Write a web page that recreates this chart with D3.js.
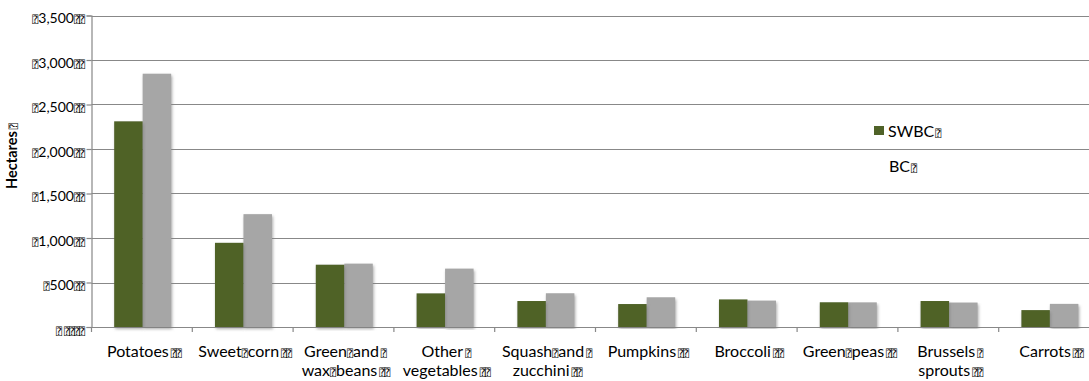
<!DOCTYPE html>
<html>
<head>
<meta charset="utf-8">
<script src="https://cdn.jsdelivr.net/npm/d3@7/dist/d3.min.js"></script>
<style>
  html, body { margin: 0; padding: 0; background: #fff; }
  svg { display: block; }
  text { font-family: Lato, "Open Sans", sans-serif; fill: #000; }
  .box { font-family: "DejaVu Sans Mono", "DejaVu Sans", monospace; }
</style>
</head>
<body>
<div id="chart"></div>
<script>
// Vegetable area by crop, SWBC vs BC (hectares)
const categories = [
  ["Potatoes"],
  ["Sweet", "corn"],
  ["Green", "and", "|", "wax", "beans"],
  ["Other", "|", "vegetables"],
  ["Squash", "and", "|", "zucchini"],
  ["Pumpkins"],
  ["Broccoli"],
  ["Green", "peas"],
  ["Brussels", "|", "sprouts"],
  ["Carrots"]
];
const seriesNames = ["SWBC", "BC"];
const swbc = [2311, 946, 700, 378, 292, 258, 310, 278, 292, 190];
const bc   = [2846, 1268, 712, 656, 379, 334, 297, 277, 275, 260];
const yTicks = [0, 500, 1000, 1500, 2000, 2500, 3000, 3500];
const yTitle = "Hectares";

const W = 1089, H = 381;
const BOX = "\u2370";
const green = "#4f6228", grey = "#a6a6a6", lineCol = "#888888";

const svg = d3.select("#chart").append("svg").attr("width", W).attr("height", H);

const defs = svg.append("defs");
const f = defs.append("filter").attr("id", "shadow")
  .attr("x", "-20%").attr("y", "-5%").attr("width", "140%").attr("height", "110%");
f.append("feGaussianBlur").attr("in", "SourceAlpha").attr("stdDeviation", 1.6).attr("result", "b");
f.append("feOffset").attr("in", "b").attr("dx", 1).attr("dy", 1.5).attr("result", "o");
f.append("feFlood").attr("flood-color", "#7f7f7f").attr("flood-opacity", 0.65);
f.append("feComposite").attr("in2", "o").attr("operator", "in").attr("result", "s");
const m = f.append("feMerge");
m.append("feMergeNode").attr("in", "s");
m.append("feMergeNode").attr("in", "SourceGraphic");

const x = d3.scaleBand().domain(d3.range(categories.length)).range([91.5, 1099.5]).padding(0);
const bw = x.bandwidth();
const xs = d3.scaleBand().domain(seriesNames).range([bw * 0.225, bw * 0.225 + 57]).padding(0);
const y = d3.scaleLinear().domain([0, 3500]).range([327, 15.5]);

// gridlines
svg.append("g").selectAll("line").data(yTicks).join("line")
  .attr("x1", 91.5).attr("x2", W)
  .attr("y1", d => Math.round(y(d)) + 0.5).attr("y2", d => Math.round(y(d)) + 0.5)
  .attr("stroke", lineCol).attr("stroke-width", 1.2);

// bars
const data = swbc.map((v, i) => [{ s: "SWBC", v, i }, { s: "BC", v: bc[i], i }]);
const groups = svg.append("g").selectAll("g").data(data).join("g")
  .attr("transform", (d, i) => `translate(${x(i)},0)`);
groups.selectAll("rect").data(d => d.slice().reverse()).join("rect")
  .attr("x", d => xs(d.s)).attr("width", xs.bandwidth())
  .attr("y", d => y(d.v)).attr("height", d => y(0) - y(d.v))
  .attr("fill", d => d.s === "SWBC" ? green : grey)
  .attr("filter", "url(#shadow)");

// y axis line and ticks
const yAxis = d3.axisLeft(y).tickValues(yTicks).tickSize(5).tickFormat("");
const ya = svg.append("g").attr("transform", "translate(91.5,0)").call(yAxis);
ya.select(".domain").attr("stroke", lineCol).attr("stroke-width", 1.2);
ya.selectAll(".tick line").attr("stroke", lineCol).attr("stroke-width", 1.2);

// x axis ticks between categories
svg.append("g").selectAll("line").data(d3.range(categories.length + 1)).join("line")
  .attr("x1", i => 91.5 + i * bw).attr("x2", i => 91.5 + i * bw)
  .attr("y1", y(0)).attr("y2", y(0) + 5)
  .attr("stroke", lineCol).attr("stroke-width", 1.2);

// y tick labels
const fmt = d3.format(",");
const yl = svg.append("g").selectAll("text").data(yTicks).join("text")
  .attr("x", 84).attr("y", d => y(d) + 7.5)
  .attr("text-anchor", "end").style("font-size", "14px");
yl.each(function (d) {
  const t = d3.select(this);
  if (d === 0) {
    t.append("tspan").attr("class", "box").style("font-size", "10px").text(BOX);
    t.append("tspan").attr("class", "box").attr("dx", 2).style("font-size", "10px").style("letter-spacing", "-1px").text(BOX + BOX + BOX + BOX);
  } else {
    t.append("tspan").attr("class", "box").style("font-size", "10px").text(BOX);
    t.append("tspan").text(fmt(d));
    t.append("tspan").attr("class", "box").style("font-size", "10px").style("letter-spacing", "-1px").text(BOX + BOX);
  }
});

// category labels
function addLine(t, words, last, xx, yy) {
  const line = t.append("tspan").attr("x", xx).attr("y", yy);
  words.forEach((w, k) => {
    line.append("tspan").text(w);
    if (k < words.length - 1) {
      line.append("tspan").attr("class", "box").style("font-size", "10px").text(BOX);
    }
  });
  if (last) line.append("tspan").attr("class", "box").style("font-size", "10px").style("letter-spacing", "-1px").attr("dx", 2).text(BOX + BOX);
  else line.append("tspan").attr("class", "box").style("font-size", "10px").attr("dx", 2).text(BOX);
}
svg.append("g").selectAll("text").data(categories).join("text")
  .attr("text-anchor", "middle").style("font-size", "16px")
  .each(function (c, i) {
    const t = d3.select(this);
    const cx = x(i) + bw / 2 + 2;
    const lines = [];
    let cur = [];
    c.forEach(w => { if (w === "|") { lines.push(cur); cur = []; } else cur.push(w); });
    lines.push(cur);
    lines.forEach((ln, k) => addLine(t, ln, k === lines.length - 1, cx, 357 + k * 18.5));
  });

// y title
const yt = svg.append("text").attr("transform", "translate(17,156) rotate(-90)")
  .attr("text-anchor", "middle").style("font-size", "14.5px").style("font-weight", "bold");
yt.append("tspan").text(yTitle);
yt.append("tspan").attr("class", "box").style("font-size", "10px").style("font-weight", "normal").attr("dx", 2).text(BOX);

// legend
svg.append("rect").attr("x", 874).attr("y", 126).attr("width", 10).attr("height", 9).attr("fill", green);
const lg = svg.append("g").selectAll("text").data(seriesNames).join("text")
  .attr("x", (d, i) => i === 0 ? 888 : 889).attr("y", (d, i) => i === 0 ? 137 : 172)
  .style("font-size", "16px");
lg.append("tspan").text(d => d);
lg.append("tspan").attr("class", "box").style("font-size", "10px").attr("dx", 1).text(BOX);
</script>
</body>
</html>
